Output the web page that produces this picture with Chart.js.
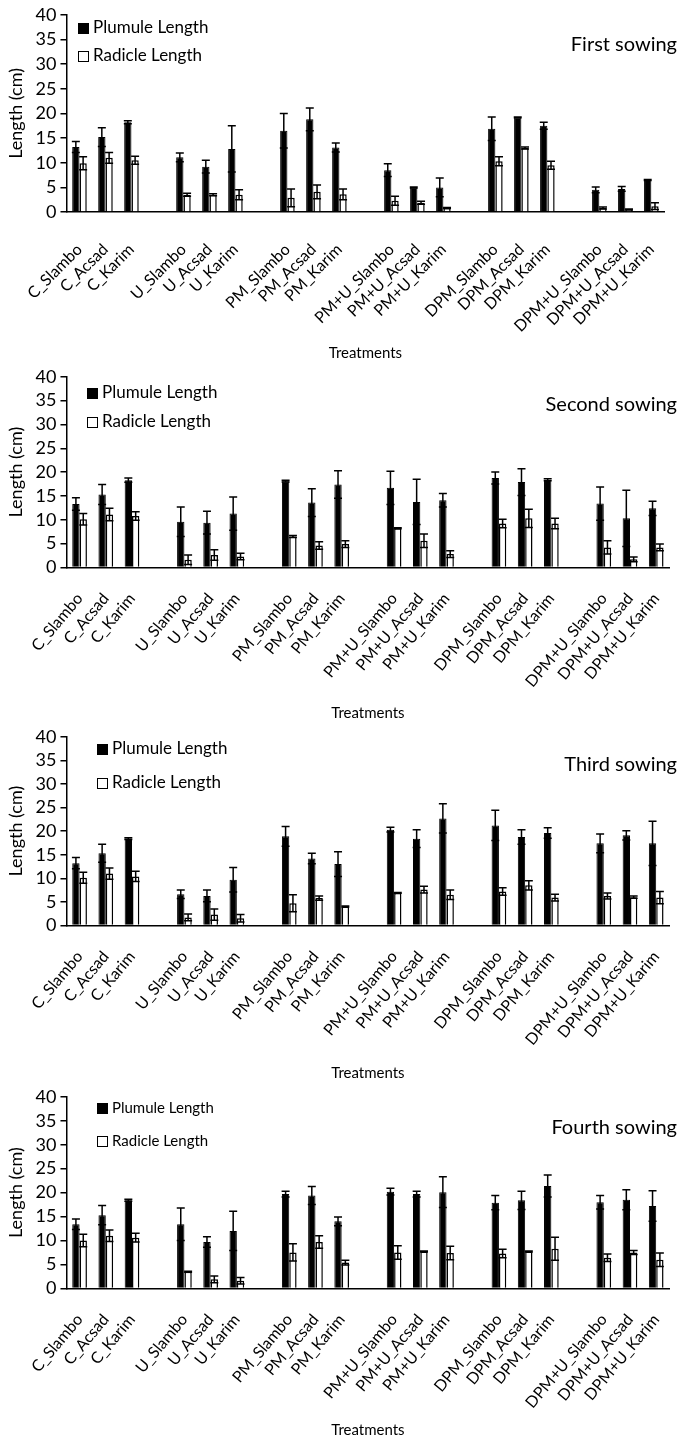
<!DOCTYPE html>
<html>
<head>
<meta charset="utf-8">
<script src="https://cdn.jsdelivr.net/npm/chart.js@4.4.1/dist/chart.umd.min.js"></script>
<style>
  html, body { margin: 0; padding: 0; background: #fff; }
  .panel { position: relative; width: 685px; }
</style>
</head>
<body>
<div class="panel" style="height:362px"><canvas id="c0"></canvas></div>
<div class="panel" style="height:360px"><canvas id="c1"></canvas></div>
<div class="panel" style="height:360px"><canvas id="c2"></canvas></div>
<div class="panel" style="height:363px"><canvas id="c3"></canvas></div>
<script>
const treatments = [
  'C_Slambo', 'C_Acsad', 'C_Karim',
  'U_Slambo', 'U_Acsad', 'U_Karim',
  'PM_Slambo', 'PM_Acsad', 'PM_Karim',
  'PM+U_Slambo', 'PM+U_Acsad', 'PM+U_Karim',
  'DPM_Slambo', 'DPM_Acsad', 'DPM_Karim',
  'DPM+U_Slambo', 'DPM+U_Acsad', 'DPM+U_Karim',
];
const sowings = ['First sowing', 'Second sowing', 'Third sowing', 'Fourth sowing'];
const yTicks = [0, 5, 10, 15, 20, 25, 30, 35, 40];

// first sowing
const plumule1 = [13.2, 15.2, 18.2, 11.1, 9.2, 12.8, 16.5, 18.8, 13.1, 8.5, 5.0, 5.0, 16.9, 19.2, 17.5, 4.5, 4.7, 6.5];
const plumuleErr1 = [1.1, 1.9, 0.3, 0.9, 1.3, 4.7, 3.5, 2.3, 0.9, 1.3, 0.1, 1.9, 2.4, 0.1, 0.7, 0.6, 0.5, 0.1];
const radicle1 = [9.9, 11.0, 10.5, 3.5, 3.5, 3.5, 2.9, 4.1, 3.6, 2.3, 1.9, 0.8, 10.3, 13.0, 9.5, 0.8, 0.5, 1.2];
const radicleErr1 = [1.3, 1.1, 0.8, 0.3, 0.2, 1.0, 1.8, 1.4, 1.1, 0.9, 0.3, 0.1, 0.9, 0.2, 0.8, 0.2, 0.1, 0.7];

// second sowing
const plumule2 = [13.3, 15.3, 18.3, 9.6, 9.4, 11.3, 18.1, 13.6, 17.4, 16.7, 13.75, 14.1, 18.75, 17.9, 18.4, 13.4, 10.3, 12.4];
const plumuleErr2 = [1.3, 2.1, 0.45, 3.1, 2.4, 3.5, 0.2, 2.9, 2.9, 3.5, 4.75, 1.4, 1.25, 2.8, 0.2, 3.5, 5.9, 1.5];
const radicle2 = [10.1, 11.1, 10.8, 1.6, 2.6, 2.3, 6.5, 4.6, 4.9, 8.2, 5.6, 2.8, 9.2, 10.3, 9.2, 4.2, 1.7, 4.2];
const radicleErr2 = [1.2, 1.3, 0.9, 1.0, 1.1, 0.7, 0.2, 0.8, 0.7, 0.1, 1.4, 0.7, 0.9, 1.9, 1.1, 1.4, 0.5, 0.7];

// third sowing
const plumule3 = [13.2, 15.3, 18.4, 6.6, 6.25, 9.7, 18.9, 14.2, 13.0, 20.3, 18.4, 22.7, 21.2, 18.75, 19.6, 17.4, 19.1, 17.4];
const plumuleErr3 = [1.2, 1.9, 0.2, 0.9, 1.25, 2.6, 2.1, 1.1, 2.6, 0.5, 1.9, 3.1, 3.2, 1.55, 1.1, 2.0, 1.0, 4.7];
const radicle3 = [10.1, 11.0, 10.4, 1.7, 2.3, 1.5, 4.7, 5.8, 4.0, 6.9, 7.6, 6.5, 7.2, 8.5, 5.9, 6.25, 6.0, 5.9];
const radicleErr3 = [1.15, 1.2, 1.1, 0.7, 1.2, 0.8, 1.8, 0.45, 0.1, 0.1, 0.7, 1.0, 0.8, 1.0, 0.7, 0.65, 0.25, 1.3];

// fourth sowing
const plumule4 = [13.4, 15.3, 18.4, 13.4, 9.7, 12.0, 19.7, 19.4, 14.0, 20.2, 19.7, 20.1, 17.9, 18.4, 21.4, 18.0, 18.5, 17.2];
const plumuleErr4 = [1.1, 2.0, 0.2, 3.4, 1.1, 4.1, 0.6, 1.9, 0.9, 0.7, 0.6, 3.2, 1.5, 1.9, 2.3, 1.4, 2.1, 3.2];
const radicle4 = [10.0, 11.0, 10.6, 3.5, 1.9, 1.6, 7.5, 9.7, 5.4, 7.5, 7.7, 7.4, 7.3, 7.7, 8.3, 6.4, 7.5, 6.0];
const radicleErr4 = [1.3, 1.2, 0.9, 0.1, 0.7, 0.7, 1.8, 1.3, 0.5, 1.4, 0.1, 1.4, 0.9, 0.1, 2.4, 0.8, 0.4, 1.4];

const plumule = [plumule1, plumule2, plumule3, plumule4];
const plumuleErr = [plumuleErr1, plumuleErr2, plumuleErr3, plumuleErr4];
const radicle = [radicle1, radicle2, radicle3, radicle4];
const radicleErr = [radicleErr1, radicleErr2, radicleErr3, radicleErr4];

// per panel layout: legend, title, label rotation and paddings
const panels = [
  { x: 78, y1: 28, y2: 56, legendFont: 17, titleY: 45, rot: 45, padTop: -2, tickPad: 20, titlePad: -12, padBottom: 0 },
  { x: 87, y1: 31, y2: 60, legendFont: 17, titleY: 43, rot: 50, padTop: -4, tickPad: 14, titlePad: -1, padBottom: 0 },
  { x: 97, y1: 27, y2: 61, legendFont: 17, titleY: 43, rot: 50, padTop: -3, tickPad: 14, titlePad: 1, padBottom: 0 },
  { x: 97, y1: 26, y2: 59, legendFont: 15, titleY: 46, rot: 50, padTop: -4, tickPad: 14, titlePad: -5, padBottom: 6 },
];

// an empty slot between every group of three treatments
function withGaps(arr, blank) {
  const out = [];
  arr.forEach((v, i) => {
    out.push(v);
    if (i % 3 === 2 && i < arr.length - 1) out.push(blank);
  });
  return out;
}

Chart.defaults.font.family = 'Lato, "Open Sans", sans-serif';
Chart.defaults.color = '#000';

const errorBars = {
  id: 'errorBars',
  afterDatasetsDraw(chart) {
    const ctx = chart.ctx;
    const y = chart.scales.y;
    ctx.save();
    ctx.strokeStyle = '#000';
    ctx.lineWidth = 1.5;
    chart.data.datasets.forEach((ds, di) => {
      const meta = chart.getDatasetMeta(di);
      meta.data.forEach((bar, i) => {
        const v = ds.data[i];
        const e = ds.errors[i];
        if (v == null || e == null) return;
        const top = y.getPixelForValue(v + e);
        const bot = y.getPixelForValue(Math.max(v - e, 0));
        ctx.beginPath();
        ctx.moveTo(bar.x, top);
        ctx.lineTo(bar.x, bot);
        ctx.moveTo(bar.x - 4, top);
        ctx.lineTo(bar.x + 4, top);
        ctx.moveTo(bar.x - 4, bot);
        ctx.lineTo(bar.x + 4, bot);
        ctx.stroke();
      });
    });
    ctx.restore();
  },
};

const panelDecor = {
  id: 'panelDecor',
  afterDraw(chart, args, opts) {
    const ctx = chart.ctx;
    ctx.save();
    ctx.font = opts.legendFont + 'px ' + Chart.defaults.font.family;
    ctx.textBaseline = 'middle';
    ctx.textAlign = 'left';
    const rows = [opts.y1, opts.y2];
    chart.data.datasets.forEach((ds, i) => {
      const yy = rows[i];
      ctx.fillStyle = ds.backgroundColor;
      ctx.fillRect(opts.x, yy - 5, 10, 10);
      ctx.strokeStyle = '#000';
      ctx.lineWidth = 1;
      ctx.strokeRect(opts.x + 0.5, yy - 5 + 0.5, 10, 10);
      ctx.fillStyle = '#000';
      ctx.fillText(ds.label, opts.x + 15, yy);
    });
    ctx.font = '20px ' + Chart.defaults.font.family;
    ctx.textAlign = 'right';
    ctx.fillText(opts.title, 677, opts.titleY);
    ctx.restore();
  },
};

sowings.forEach((title, k) => {
  const p = panels[k];
  new Chart(document.getElementById('c' + k), {
    type: 'bar',
    data: {
      labels: withGaps(treatments, ''),
      datasets: [{
        label: 'Plumule Length',
        data: withGaps(plumule[k], null),
        errors: withGaps(plumuleErr[k], null),
        backgroundColor: '#000',
        borderColor: '#000',
        borderWidth: 1,
        categoryPercentage: 0.56,
        barPercentage: 1.0,
      }, {
        label: 'Radicle Length',
        data: withGaps(radicle[k], null),
        errors: withGaps(radicleErr[k], null),
        backgroundColor: '#fff',
        borderColor: '#000',
        borderWidth: 1.5,
        categoryPercentage: 0.56,
        barPercentage: 1.0,
      }],
    },
    options: {
      responsive: true,
      maintainAspectRatio: false,
      animation: false,
      layout: { padding: { top: p.padTop, right: 4, left: 5, bottom: p.padBottom } },
      plugins: {
        legend: { display: false },
        tooltip: { enabled: false },
        panelDecor: { title: title, ...p },
      },
      scales: {
        x: {
          grid: { display: false },
          border: { color: '#000', width: 1.5 },
          ticks: {
            autoSkip: false,
            maxRotation: p.rot,
            minRotation: p.rot,
            padding: p.tickPad,
            font: { size: 16 },
          },
          title: {
            display: true,
            text: 'Treatments',
            font: { size: 15 },
            padding: { top: p.titlePad, bottom: 0 },
          },
        },
        y: {
          min: 0,
          max: 40,
          afterBuildTicks(scale) { scale.ticks = yTicks.map((v) => ({ value: v })); },
          grid: { drawOnChartArea: false, drawTicks: true, tickLength: 6, color: '#000', lineWidth: 1.5 },
          border: { color: '#000', width: 1.5 },
          ticks: { autoSkip: false, font: { size: 18 }, padding: 4 },
          title: {
            display: true,
            text: 'Length (cm)',
            font: { size: 18 },
            padding: { top: 0, bottom: 5 },
          },
        },
      },
    },
    plugins: [errorBars, panelDecor],
  });
});
</script>
</body>
</html>
